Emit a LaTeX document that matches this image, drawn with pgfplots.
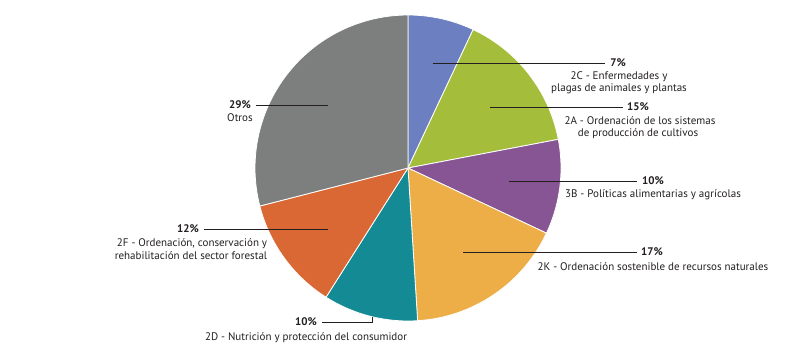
\documentclass[border=0pt]{standalone}
\usepackage{pgfplots}
\pgfplotsset{compat=1.18}
\usepackage{fontspec}
\setmainfont{PT Sans}
\definecolor{cBlue}{HTML}{6C80C1}
\definecolor{cGreen}{HTML}{A4BD3B}
\definecolor{cPurple}{HTML}{875594}
\definecolor{cYellow}{HTML}{EEAE47}
\definecolor{cTeal}{HTML}{148B94}
\definecolor{cOrange}{HTML}{D96834}
\definecolor{cGrey}{HTML}{7C7F7D}
\definecolor{cLine}{HTML}{231F20}
% slice values (percent), clockwise from 12 o'clock
\def\vA{7}\def\vB{15}\def\vC{10}\def\vD{17}\def\vE{10}\def\vF{12}\def\vG{29}
\pgfmathsetmacro{\aO}{90}
\pgfmathsetmacro{\aA}{\aO-3.6*\vA}
\pgfmathsetmacro{\aB}{\aA-3.6*\vB}
\pgfmathsetmacro{\aC}{\aB-3.6*\vC}
\pgfmathsetmacro{\aD}{\aC-3.6*\vD}
\pgfmathsetmacro{\aE}{\aD-3.6*\vE}
\pgfmathsetmacro{\aF}{\aE-3.6*\vF}
\pgfmathsetmacro{\aG}{\aF-3.6*\vG}
\def\pcx{408}\def\pcy{186}\def\prr{153}
\newcommand{\pieslice}[3]{%
  \addplot[fill=#1, draw=white, line width=0.8pt, domain=#2:#3, samples=60, variable=\t]
    ({\pcx+\prr*cos(\t)},{\pcy+\prr*sin(\t)}) -- (axis cs:\pcx,\pcy) -- cycle;}
\tikzset{lbl/.style={font=\fontsize{11}{13}\selectfont, inner sep=0pt, anchor=base, text=cLine}}
\begin{document}
\fontsize{11}{13}\selectfont
\begin{tikzpicture}[x=1pt,y=1pt]
\begin{axis}[
  scale only axis, width=800pt, height=354pt,
  xmin=0, xmax=800, ymin=0, ymax=354,
  hide axis, clip=false,
]
\pieslice{cBlue}{\aA}{\aO}
\pieslice{cGreen}{\aB}{\aA}
\pieslice{cPurple}{\aC}{\aB}
\pieslice{cYellow}{\aD}{\aC}
\pieslice{cTeal}{\aE}{\aD}
\pieslice{cOrange}{\aF}{\aE}
\pieslice{cGrey}{\aG}{\aF}
% leader lines (pixel coords, y flipped)
\draw[cLine, line width=0.9pt] (axis cs:433,291) -- (axis cs:605,291);
\draw[cLine, line width=0.9pt] (axis cs:490,247) -- (axis cs:623,247);
\draw[cLine, line width=0.9pt] (axis cs:509,173) -- (axis cs:637,173);
\draw[cLine, line width=0.9pt] (axis cs:463,102) -- (axis cs:637,102);
\draw[cLine, line width=0.9pt] (axis cs:372,37) -- (axis cs:372,32) -- (axis cs:322,32);
\draw[cLine, line width=0.9pt] (axis cs:204,125) -- (axis cs:328,125);
\draw[cLine, line width=0.9pt] (axis cs:256,249) -- (axis cs:328,249);
% labels
\node[lbl] at (axis cs:618,287.5) {\textbf{7\%}};
\node[lbl] at (axis cs:619,274.5) {2C - Enfermedades y};
\node[lbl] at (axis cs:619,262.5) {plagas de animales y plantas};
\node[lbl] at (axis cs:638,243.5) {\textbf{15\%}};
\node[lbl] at (axis cs:640,229.5) {2A - Ordenación de los sistemas};
\node[lbl] at (axis cs:638,217.5) {de producción de cultivos};
\node[lbl] at (axis cs:653,169.5) {\textbf{10\%}};
\node[lbl] at (axis cs:653,156.5) {3B - Políticas alimentarias y agrícolas};
\node[lbl] at (axis cs:652,98.5) {\textbf{17\%}};
\node[lbl] at (axis cs:653,83.5) {2K - Ordenación sostenible de recursos naturales};
\node[lbl] at (axis cs:306,28.5) {\textbf{10\%}};
\node[lbl] at (axis cs:306,13.5) {2D - Nutrición y protección del consumidor};
\node[lbl] at (axis cs:188,121.5) {\textbf{12\%}};
\node[lbl] at (axis cs:192,107.5) {2F - Ordenación, conservación y};
\node[lbl] at (axis cs:191,94.5) {rehabilitación del sector forestal};
\node[lbl] at (axis cs:240,245.5) {\textbf{29\%}};
\node[lbl] at (axis cs:240,232.5) {Otros};
\end{axis}
\pgfresetboundingbox
\path (current axis.south west) rectangle (current axis.north east);
\end{tikzpicture}
\end{document}
